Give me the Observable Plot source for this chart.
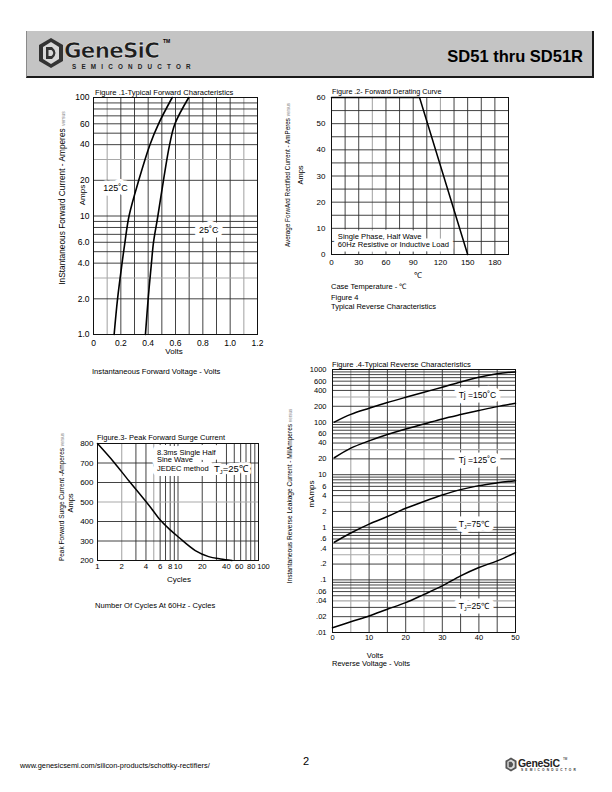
<!DOCTYPE html>
<html><head><meta charset="utf-8">
<script src="https://cdn.jsdelivr.net/npm/d3@7"></script>
<script src="https://cdn.jsdelivr.net/npm/@observablehq/plot@0.6"></script>
<style>
body{margin:0;background:#fff;}
#page{position:relative;width:612px;height:792px;overflow:hidden;font-family:"Liberation Sans",Arial,sans-serif;color:#000;background:#fff;}
.abs{position:absolute;white-space:nowrap;line-height:1;}
.fig{position:absolute;}
.fig svg text{paint-order:stroke;}
</style></head><body><div id="page"></div>
<script>
// ---------------- Figure 1: Typical Forward Characteristics ----------------
const f1Current   = [1, 2, 4, 6, 10, 20, 40, 60, 100];
const f1Volts125C = [0.151, 0.176, 0.209, 0.230, 0.260, 0.331, 0.413, 0.476, 0.576];
const f1Volts25C  = [0.380, 0.400, 0.424, 0.439, 0.471, 0.512, 0.557, 0.596, 0.697];
const f1XTicks  = [0, 0.2, 0.4, 0.6, 0.8, 1.0, 1.2];
const f1XLabels = ["0", "0.2", "0.4", "0.6", "0.8", "1.0", "1.2"];
const f1YTicks  = [1, 2, 4, 6, 10, 20, 40, 60, 100];
const f1YLabels = ["1.0", "2.0", "4.0", "6.0", "10", "20", "40", "60", "100"];
const f1Tags    = ["125˚C", "25˚C"];
const f1TagV    = [0.161, 0.843];
const f1TagI    = [17.2, 7.55];

// ---------------- Figure 2: Forward Derating Curve ----------------
const f2Temp = [0, 97, 150];
const f2Amps = [60, 60, 0];
const f2XTicks = [0, 30, 60, 90, 120, 150, 180];
const f2YTicks = [0, 10, 20, 30, 40, 50, 60];
const f2Notes  = ["Single Phase, Half Wave", "60Hz Resistive or Inductive Load"];
const f2NoteT  = [7, 7];
const f2NoteA  = [7.0, 3.7];

// ---------------- Figure 3: Peak Forward Surge Current ----------------
const f3Cycles = [1, 1.61, 2.45, 3.35, 4.65, 5.73, 8.0, 10.2, 16.4, 24, 33.8, 46.9];
const f3Amps   = [800, 703, 609, 541, 468, 418, 357, 319, 251, 220, 208, 200];
const f3XTicks = [1, 2, 4, 6, 8, 10, 20, 40, 60, 80, 100];
const f3XLabels = ["1", "2", "4", "6", "8", "10", "20", "40", "60", "80", "100"];
const f3YTicks = [200, 300, 400, 500, 600, 700, 800];
const f3Notes  = ["8.3ms Single Half", "Sine Wave", "JEDEC method"];
const f3NoteC  = [5.47, 5.47, 5.47];
const f3NoteA  = [754, 715, 672];
const f3TjText = "T_J=25℃";
const f3TjC = 28, f3TjA = 671;

// ---------------- Figure 4: Typical Reverse Characteristics ----------------
const f4Volts  = [0.5, 5, 10, 15, 20, 25, 30, 35, 40, 45, 50];
const f4Tj150  = [100, 140, 183, 235, 296, 370, 460, 580, 713, 830, 900];
const f4Tj125  = [21, 32, 44, 58, 74, 92, 115, 139, 166, 197, 228];
const f4Tj75   = [0.52, 0.78, 1.15, 1.6, 2.3, 3.1, 4.1, 5.2, 6.2, 7.0, 7.7];
const f4Tj25   = [0.0123, 0.016, 0.0206, 0.0277, 0.037, 0.053, 0.077, 0.119, 0.172, 0.23, 0.33];
const f4XTicks = [0, 10, 20, 30, 40, 50];
const f4YTicks = [0.01, 0.02, 0.04, 0.06, 0.1, 0.2, 0.4, 0.6, 1, 2, 4, 6, 10, 20, 40, 60, 100, 200, 400, 600, 1000];
const f4YLabels = [".01", ".02", ".04", ".06", ".1", ".2", ".4", ".6", "1", "2", "4", "6", "10", "20", "40", "60", "100", "200", "400", "600", "1000"];
const f4Tags  = ["Tj =150˚C", "Tj =125˚C", "T_J=75℃", "T_J=25℃"];
const f4TagV  = [39.6, 39.6, 38.6, 38.6];
const f4TagI  = [320, 18.5, 1.12, 0.032];

// ---------------- helpers ----------------
const page = document.getElementById('page');
const r1 = v => +v.toFixed(4);
function logGrid(lo, hi) { const out = []; for (let e = lo; e < hi; e++) for (let m = 1; m < 10; m++) out.push(r1(m * Math.pow(10, e))); out.push(r1(Math.pow(10, hi))); return out; }
function linGrid(a, b, s) { return d3.range(a, b + s / 2, s).map(r1); }

function txt(s, x, y, size, o = {}) {
  const d = document.createElement('div');
  d.className = 'abs';
  d.innerHTML = s;
  d.style.left = x + 'px'; d.style.top = y + 'px'; d.style.fontSize = size + 'px';
  const tx = o.anchor === 'middle' ? '-50%' : o.anchor === 'end' ? '-100%' : '0';
  d.style.transform = o.rotate ? `translate(-50%,-50%) rotate(${o.rotate}deg)` : `translate(${tx},-50%)`;
  if (o.weight) d.style.fontWeight = o.weight;
  if (o.color) d.style.color = o.color;
  if (o.ls != null) d.style.letterSpacing = o.ls + 'px';
  if (o.family) d.style.fontFamily = o.family;
  page.appendChild(d);
  return d;
}
function place(svg, left, top) {
  const d = document.createElement('div'); d.className = 'fig';
  d.style.left = left + 'px'; d.style.top = top + 'px';
  d.appendChild(svg); page.appendChild(d);
  const ns = 'http://www.w3.org/2000/svg';
  svg.querySelectorAll('text').forEach(t => {
    const s = t.textContent;
    if (s.includes('_J')) {
      const [a, b] = s.split('_J');
      t.textContent = '';
      const t1 = document.createElementNS(ns, 'tspan'); t1.textContent = a;
      const t2 = document.createElementNS(ns, 'tspan'); t2.textContent = 'J'; t2.setAttribute('dy', '2'); t2.setAttribute('font-size', '0.6em');
      const t3 = document.createElementNS(ns, 'tspan'); t3.textContent = b; t3.setAttribute('dy', '-2');
      t.append(t1, t2, t3);
    }
  });
}
function grid(gx, gy, lx, ly) {
  const dark = "#2e2e2e", light = "#a9a9a9";
  return [
    Plot.ruleX(gx.filter(v => !lx.includes(v)), {stroke: dark, strokeWidth: 0.9}),
    Plot.ruleX(gx.filter(v => lx.includes(v)), {stroke: light, strokeWidth: 1.1}),
    Plot.ruleY(gy.filter(v => !ly.includes(v)), {stroke: dark, strokeWidth: 0.9}),
    Plot.ruleY(gy.filter(v => ly.includes(v)), {stroke: light, strokeWidth: 1.1}),
  ];
}
// white knock-out layer under annotation text, then the text itself
function boxed(data, opts, halo) {
  return [
    Plot.text(data, {...opts, fill: "#fff", stroke: "#fff", strokeWidth: halo}),
    Plot.text(data, {...opts, fill: "#000"})
  ];
}
function yLabels(ticks, labels, fs, dx) {
  return Plot.text(ticks, {y: d => d, text: (d, i) => labels[i], frameAnchor: "left", textAnchor: "end", dx: -dx, fontSize: fs, fill: "#000"});
}
function xLabels(ticks, labels, fs, dy, dx = 0) {
  return Plot.text(ticks, {x: d => d, text: d => labels[ticks.indexOf(d)], frameAnchor: "bottom", lineAnchor: "top", dy: dy, dx: dx, fontSize: fs, fill: "#000"});
}
const baseStyle = fs => ({fontFamily: "Liberation Sans, Arial, sans-serif", fontSize: fs + "px", background: "transparent", overflow: "visible", color: "#000"});

// ---------------- header ----------------
const hdr = document.createElement('div');
hdr.style.cssText = "position:absolute;left:26px;top:31px;width:565px;height:45px;background:#c4c4c4;border-left:1px solid #8a8a8a;border-right:2px solid #1a1a1a;border-bottom:2px solid #1a1a1a;";
page.appendChild(hdr);
const logo = document.createElement('div');
logo.innerHTML = `<svg width="26" height="32" viewBox="0 0 26 32" style="position:absolute;left:38px;top:37px">
 <polygon points="13,1 25,8 25,24 13,31 1,24 1,8" fill="#333"/>
 <polygon points="13,5 21,10 21,22 13,27 5,22 5,10" fill="#d8d8d8"/>
 <path d="M8,10 L14,10 Q21,16 14,22 L8,22 Z" fill="#333"/>
 <path d="M10.5,13 L13.5,13 Q17,16 13.5,19 L10.5,19 Z" fill="#d8d8d8"/>
</svg>`;
page.appendChild(logo);
txt("GeneSiC", 64, 51, 21.5, {weight: "bold", ls: -0.8, color: "#1e1e1e", family: "DejaVu Sans, sans-serif"}).style.webkitTextStroke = "0.5px #f4f4f4";
txt("TM", 163, 41, 5, {weight: "bold"});
txt("SEMICONDUCTOR", 72, 67, 6.3, {ls: 5.2, weight: "bold", color: "#222"});
txt("SD51 thru SD51R", 583, 56, 16.5, {anchor: "end", weight: "bold"});

// ---------------- Figure 1 ----------------
const f1Data = f1Current.flatMap((c, i) => [{v: f1Volts125C[i], c, s: "125"}, {v: f1Volts25C[i], c, s: "25"}]);
const f1TagData = f1Tags.map((t, i) => ({t, v: f1TagV[i], c: f1TagI[i]}));
const fig1 = Plot.plot({
  width: 240, height: 280, marginLeft: 53, marginRight: 23, marginTop: 17, marginBottom: 26,
  style: baseStyle(8.5),
  x: {domain: [0, 1.2], ticks: f1XTicks, tickFormat: d => f1XLabels[f1XTicks.indexOf(d)], tickSize: 0, tickPadding: 5, label: null},
  y: {type: "log", domain: [1, 100], axis: null},
  marks: [
    ...grid(d3.range(13).map(i => r1(i * 0.1)), logGrid(0, 2), [0.1, 1.1], [3, 30]),
    Plot.frame({stroke: "#111", strokeWidth: 1}),
    yLabels(f1YTicks, f1YLabels, 8.5, 4),
    Plot.line(f1Data, {x: "v", y: "c", z: "s", curve: "catmull-rom", stroke: "#000", strokeWidth: 1.6}),
    ...boxed(f1TagData, {x: "v", y: "c", text: "t", fontSize: 9}, 9)
  ]
});
place(fig1, 40, 80);
txt("Figure .1-Typical Forward Characteristics", 95, 93, 7.6);
txt('InStantaneous Forward Current - Amperes <span style="font-size:5px;color:#888">versus</span>', 62, 198, 8.3, {rotate: -90});
txt("Amps", 83, 195, 8, {rotate: -90});
txt("Volts", 174, 352, 8, {anchor: "middle"});
txt("Instantaneous Forward Voltage - Volts", 92, 372, 7.6);

// ---------------- Figure 2 ----------------
const f2Data = f2Temp.map((t, i) => ({t, a: f2Amps[i]}));
const f2NoteData = f2Notes.map((n, i) => ({n, t: f2NoteT[i], a: f2NoteA[i]}));
const fig2 = Plot.plot({
  width: 230, height: 194, marginLeft: 41, marginRight: 12, marginTop: 17, marginBottom: 20,
  style: baseStyle(8),
  x: {domain: [0, 195], ticks: f2XTicks, tickSize: 0, tickPadding: 5, label: null},
  y: {domain: [0, 60], ticks: f2YTicks, tickSize: 0, tickPadding: 6, label: null},
  marks: [
    ...grid(linGrid(0, 195, 15), linGrid(0, 60, 5), [45, 120], []),
    Plot.frame({stroke: "#111", strokeWidth: 1}),
    ...boxed(f2NoteData, {x: "t", y: "a", text: "n", textAnchor: "start", fontSize: 7.6}, 9),
    Plot.line(f2Data, {x: "t", y: "a", stroke: "#000", strokeWidth: 1.5})
  ]
});
place(fig2, 290, 80);
txt("Figure .2- Forward Derating Curve", 332, 92, 7.2);
txt('Average ForwArd Rectified Current - AmPeres <span style="font-size:4.5px;color:#888">versus</span>', 288, 175, 6.3, {rotate: -90});
txt("Amps", 301, 175, 7.5, {rotate: -90});
txt("℃", 418, 276, 8, {anchor: "middle"});
txt("Case Temperature - ℃", 331, 287, 7.5);
txt("Figure 4", 331, 298, 7.5);
txt("Typical Reverse Characteristics", 331, 307, 7.5);

// ---------------- Figure 3 ----------------
const f3Data = f3Cycles.map((c, i) => ({c, a: f3Amps[i]}));
const f3NoteData = f3Notes.map((n, i) => ({n, c: f3NoteC[i], a: f3NoteA[i]}));
const fig3 = Plot.plot({
  width: 225, height: 155, marginLeft: 52, marginRight: 12, marginTop: 18, marginBottom: 20,
  style: baseStyle(8),
  x: {type: "log", domain: [1, 100], axis: null},
  y: {domain: [200, 800], ticks: f3YTicks, tickSize: 0, tickPadding: 4, label: null},
  marks: [
    ...grid(logGrid(0, 2), linGrid(200, 800, 100), [2, 5], [500]),
    Plot.frame({stroke: "#111", strokeWidth: 1}),
    xLabels(f3XTicks.slice(0, -3), f3XLabels.slice(0, -3), 7.8, 3),
    xLabels(f3XTicks.slice(-3, -2), f3XLabels.slice(-3, -2), 7.5, 3, -1.5),
    xLabels(f3XTicks.slice(-2, -1), f3XLabels.slice(-2, -1), 7.5, 3, 0.5),
    xLabels(f3XTicks.slice(-1), f3XLabels.slice(-1), 7.5, 3, 5),
    ...boxed(f3NoteData, {x: "c", y: "a", text: "n", textAnchor: "start", fontSize: 7.5}, 10),
    ...boxed([{t: f3TjText, c: f3TjC, a: f3TjA}], {x: "c", y: "a", text: "t", textAnchor: "start", fontSize: 9.5}, 6),
    Plot.line(f3Data, {x: "c", y: "a", curve: "monotone-x", stroke: "#000", strokeWidth: 1.5})
  ]
});
place(fig3, 45, 425);
txt("Figure.3- Peak Forward Surge Current", 97, 438, 7.5);
txt('Peak Forward Surge Current -Amperes <span style="font-size:4.5px;color:#888">versus</span>', 62, 497, 6.5, {rotate: -90});
txt("Amps", 71, 503, 7.5, {rotate: -90});
txt("Cycles", 179, 580, 8, {anchor: "middle"});
txt("Number Of Cycles At 60Hz - Cycles", 95, 606, 7.6);

// ---------------- Figure 4 ----------------
const f4Series = [["150", f4Tj150], ["125", f4Tj125], ["75", f4Tj75], ["25", f4Tj25]];
const f4Data = f4Series.flatMap(([s, vals]) => vals.map((m, i) => ({s, v: s === "25" && i === 0 ? 0 : f4Volts[i], m})));
const f4TagData = f4Tags.map((t, i) => ({t, v: f4TagV[i], m: f4TagI[i]}));
const fig4 = Plot.plot({
  width: 240, height: 310, marginLeft: 42, marginRight: 15, marginTop: 19, marginBottom: 28,
  style: baseStyle(7.5),
  x: {domain: [0, 50], ticks: f4XTicks, tickSize: 0, tickPadding: 2, label: null},
  y: {type: "log", domain: [0.01, 1000], axis: null},
  marks: [
    ...grid(linGrid(0, 50, 5), logGrid(-2, 3), [5, 25], [0.04, 0.3, 3, 30, 300]),
    Plot.frame({stroke: "#111", strokeWidth: 1}),
    yLabels(f4YTicks, f4YLabels, 7.5, 6),
    ...boxed(f4TagData, {x: "v", y: "m", text: "t", fontSize: 8.5}, 9),
    Plot.line(f4Data, {x: "v", y: "m", z: "s", curve: "catmull-rom", stroke: "#000", strokeWidth: 1.5})
  ]
});
place(fig4, 290, 350);
txt("Figure .4-Typical Reverse Characteristics", 332, 365, 7.6);
txt('Instantaneous Reverse Leakage Current - MilAmperes <span style="font-size:4.5px;color:#888">versus</span>', 290, 496, 6.6, {rotate: -90});
txt("mAmps", 312, 494, 8, {rotate: -90});
txt("Volts", 375, 656, 7.5, {anchor: "middle"});
txt("Reverse Voltage - Volts", 332, 664, 7.5);

// ---------------- footer ----------------
txt("www.genesicsemi.com/silicon-products/schottky-rectifiers/", 20, 766, 7.4);
txt("2", 306, 761, 11, {anchor: "middle"});
const flogo = document.createElement('div');
flogo.innerHTML = `<svg width="12" height="15" viewBox="0 0 26 32" style="position:absolute;left:505px;top:757px">
 <polygon points="13,1 25,8 25,24 13,31 1,24 1,8" fill="#555"/>
 <polygon points="13,5 21,10 21,22 13,27 5,22 5,10" fill="#ddd"/>
 <path d="M8,10 L14,10 Q21,16 14,22 L8,22 Z" fill="#555"/>
</svg>`;
page.appendChild(flogo);
txt("GeneSiC", 518, 763, 10.5, {weight: "bold", ls: -0.3, color: "#222"});
txt("TM", 563, 759, 3);
txt("SEMICONDUCTOR", 521, 771, 3.2, {ls: 2.2, weight: "bold", color: "#333"});
</script></body></html>
